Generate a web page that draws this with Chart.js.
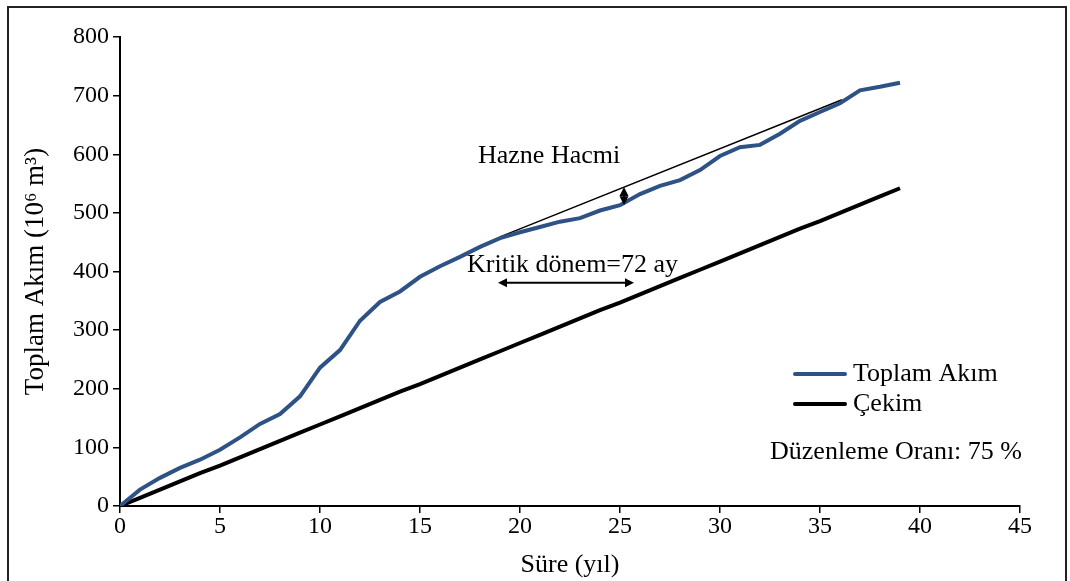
<!DOCTYPE html>
<html>
<head>
<meta charset="utf-8">
<script src="https://cdn.jsdelivr.net/npm/chart.js@4.4.1/dist/chart.umd.min.js"></script>
<style>
  body { margin: 0; background: #fff; }
  #wrap { width: 1070px; height: 581px; position: relative; }
</style>
</head>
<body>
<div id="wrap"><canvas id="myChart"></canvas></div>
<script>
// data
const years = [0,1,2,3,4,5,6,7,8,9,10,11,12,13,14,15,16,17,18,19,20,21,22,23,24,25,26,27,28,29,30,31,32,33,34,35,36,37,38,39];
const toplamAkim = [0,28,48,65,79,96,117,140,157,187,236,266,316,348,366,391,409,425,442,457,467,476,485,491,504,513,532,546,556,573,597,612,616,635,657,672,687,709,715,722];
const cekim = [0,14,28,42,56,69,83,97,111,125,139,153,167,181,195,208,222,236,250,264,278,292,306,320,334,347,361,375,389,403,417,431,445,459,473,486,500,514,528,542];

// tangent line (thin black)
const tangentX = [19, 36.1];
const tangentY = [459, 693];

// annotation values
const hazneX = 25.2;
const hazneY = [513, 544];
const kritikX = [18.9, 25.7];
const kritikY = 381;

const labels = {
    hazne: 'Hazne Hacmi',
    kritik: 'Kritik dönem=72 ay',
    oran: 'Düzenleme Oranı: 75 %',
    seriesA: 'Toplam Akım',
    seriesB: 'Çekim',
    xTitle: 'Süre (yıl)',
    yTitle: 'Toplam Akım (10⁶ m³)'
};
const hazneLabelPos = [17.9, 596];
const kritikLabelPos = [17.35, 411];

const FONT = '"Liberation Serif", "Times New Roman", serif';
const BLUE = '#2e5286';

function arrowHead(ctx, x, y, angle) {
    const len = 9, half = 4.5;
    ctx.save();
    ctx.translate(x, y);
    ctx.rotate(angle);
    ctx.beginPath();
    ctx.moveTo(0, 0);
    ctx.lineTo(-len, -half);
    ctx.lineTo(-len, half);
    ctx.closePath();
    ctx.fill();
    ctx.restore();
}

const extras = {
    id: 'extras',
    afterDatasetsDraw(chart) {
        const ctx = chart.ctx;
        const xs = chart.scales.x, ys = chart.scales.y;
        const area = chart.chartArea;
        ctx.save();
        ctx.fillStyle = '#000';
        ctx.strokeStyle = '#000';

        // Hazne Hacmi vertical double arrow
        const hx = xs.getPixelForValue(hazneX);
        const hy1 = ys.getPixelForValue(hazneY[0]);
        const hy2 = ys.getPixelForValue(hazneY[1]);
        ctx.lineWidth = 1.5;
        ctx.beginPath();
        ctx.moveTo(hx, hy1 - 6);
        ctx.lineTo(hx, hy2 + 6);
        ctx.stroke();
        arrowHead(ctx, hx, hy1, Math.PI / 2);
        arrowHead(ctx, hx, hy2, -Math.PI / 2);

        // Kritik dönem horizontal double arrow
        const ky = ys.getPixelForValue(kritikY);
        const kx1 = xs.getPixelForValue(kritikX[0]);
        const kx2 = xs.getPixelForValue(kritikX[1]);
        ctx.lineWidth = 2;
        ctx.beginPath();
        ctx.moveTo(kx1 + 6, ky);
        ctx.lineTo(kx2 - 6, ky);
        ctx.stroke();
        arrowHead(ctx, kx1, ky, Math.PI);
        arrowHead(ctx, kx2, ky, 0);

        // annotation texts
        ctx.font = '26px ' + FONT;
        ctx.textBaseline = 'middle';
        ctx.textAlign = 'left';
        ctx.fillText(labels.hazne, xs.getPixelForValue(hazneLabelPos[0]), ys.getPixelForValue(hazneLabelPos[1]));
        ctx.fillText(labels.kritik, xs.getPixelForValue(kritikLabelPos[0]), ys.getPixelForValue(kritikLabelPos[1]));

        // legend
        const lx = area.right - 225, ly = area.top + 337;
        ctx.lineWidth = 4;
        ctx.lineCap = 'round';
        ctx.strokeStyle = BLUE;
        ctx.beginPath(); ctx.moveTo(lx, ly); ctx.lineTo(lx + 50, ly); ctx.stroke();
        ctx.strokeStyle = '#000';
        ctx.beginPath(); ctx.moveTo(lx, ly + 30); ctx.lineTo(lx + 50, ly + 30); ctx.stroke();
        ctx.font = '26px ' + FONT;
        ctx.fillText(labels.seriesA, lx + 58, ly);
        ctx.fillText(labels.seriesB, lx + 58, ly + 30);

        ctx.textAlign = 'right';
        ctx.font = '26px ' + FONT;
        ctx.fillText(labels.oran, area.right + 2, area.top + 415);

        // outer frame
        ctx.lineWidth = 2;
        ctx.strokeStyle = '#222';
        ctx.strokeRect(8, 7, 1058, 600);
        ctx.restore();
    }
};

const ctx = document.getElementById('myChart');
const myChart = new Chart(ctx, {
    type: 'line',
    data: {
        datasets: [
            {
                label: labels.seriesA,
                data: years.map((x, i) => ({x: x, y: toplamAkim[i]})),
                borderColor: BLUE,
                borderWidth: 4,
                pointRadius: 0,
                tension: 0,
                fill: false,
            },
            {
                label: labels.seriesB,
                data: years.map((x, i) => ({x: x, y: cekim[i]})),
                borderColor: '#000',
                borderWidth: 4,
                pointRadius: 0,
                tension: 0,
                fill: false,
            },
            {
                label: 'tangent',
                data: tangentX.map((x, i) => ({x: x, y: tangentY[i]})),
                borderColor: '#000',
                borderWidth: 1.5,
                pointRadius: 0,
                fill: false,
            },
        ]
    },
    options: {
        responsive: true,
        maintainAspectRatio: false,
        animation: false,
        layout: {
            padding: {top: 37, right: 50, left: 0, bottom: 0}
        },
        scales: {
            x: {
                type: 'linear',
                min: 0,
                max: 45,
                ticks: {
                    stepSize: 5,
                    padding: -1,
                    color: '#000',
                    font: {family: FONT, size: 24}
                },
                grid: {
                    drawOnChartArea: false,
                    tickLength: 7,
                    color: '#000',
                    lineWidth: 1.5
                },
                border: {color: '#000', width: 2},
                title: {
                    display: true,
                    text: labels.xTitle,
                    color: '#000',
                    font: {family: FONT, size: 26},
                    padding: {top: 0, bottom: 0}
                },
                afterFit: function(axis) { axis.height = 75; }
            },
            y: {
                min: 0,
                max: 800,
                ticks: {
                    stepSize: 100,
                    padding: 4,
                    color: '#000',
                    font: {family: FONT, size: 24}
                },
                grid: {
                    drawOnChartArea: false,
                    tickLength: 7,
                    color: '#000',
                    lineWidth: 1.5
                },
                border: {color: '#000', width: 2},
                title: {
                    display: true,
                    text: labels.yTitle,
                    color: '#000',
                    font: {family: FONT, size: 27},
                    padding: {top: 20, bottom: 0}
                },
                afterFit: function(axis) { axis.width = 120; }
            }
        },
        plugins: {
            legend: {display: false},
            tooltip: {enabled: false}
        }
    },
    plugins: [extras]
});
</script>
</body>
</html>
